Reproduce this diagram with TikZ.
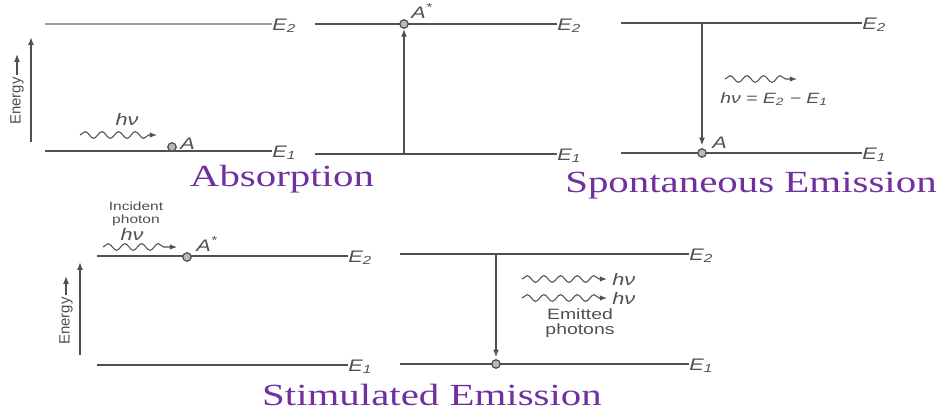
\documentclass[tikz,border=0pt]{standalone}
\usepackage{fontspec}
\setmainfont{Liberation Sans}
\newfontfamily\lblfont{Liberation Sans}[FakeStretch=1.3]
\newfontfamily\ttlfont{Liberation Serif}[FakeStretch=1.33]
\usetikzlibrary{decorations.pathmorphing,arrows.meta}
\definecolor{lvlgray}{RGB}{80,80,80}
\definecolor{atomgray}{RGB}{185,185,185}
\definecolor{titlepurple}{RGB}{112,48,160}
\tikzset{
  level/.style={draw=lvlgray, line width=1.1pt},
  elabel/.style={anchor=base west, inner sep=0pt, text=lvlgray,
    font=\lblfont\itshape\fontsize{9.5}{10}\selectfont},
  atom/.style={circle, draw=lvlgray, fill=atomgray, line width=0.7pt,
    minimum size=4.8pt, inner sep=0pt},
  trans/.style={lvlgray, line width=0.9pt, -{Latex[length=4.5pt,width=3.4pt]}},
  photon/.style={lvlgray, line width=0.6pt, decorate,
    decoration={snake, amplitude=1.9pt, segment length=9.5pt, post length=4pt},
    -{Latex[length=4pt,width=3pt]}},
  energy/.style={rotate=90, inner sep=0pt, text=lvlgray, font=\fontsize{8.5}{8.5}\selectfont},
  small/.style={inner sep=0pt, align=center, text=lvlgray,
    font=\lblfont\fontsize{6.8}{7.2}\selectfont},
  heading/.style={inner sep=0pt, text=titlepurple, font=\ttlfont\fontsize{17.5}{17.5}\selectfont},
}
\begin{document}
\begin{tikzpicture}[x=0.02cm, y=-0.02cm]
  \useasboundingbox (0,0) rectangle (938,413);
  % absorption: photon arrives
  \coordinate (a2) at (45,24);
  \coordinate (a1) at (45,151);
  \node[elabel] (a2l) at (272,30) {E\textsubscript{2}};
  \node[elabel] (a1l) at (272,157) {E\textsubscript{1}};
  \draw[level, draw=lvlgray!55] (a2) -- (a2 -| a2l.west);
  \draw[level] (a1) -- (a1 -| a1l.west);
  \coordinate (en1) at (31,142);
  \coordinate (en1t) at (31,37);
  \draw[trans] (en1) -- (en1t);
  \node[energy] (en1l) at (17,101) {Energy};
  \draw[trans, line width=0.7pt] (en1l.east) ++(0,-2) -- ++(0,-21);
  \node[atom] (atA) at (172,147) {};
  \node[elabel] (atAl) at (180,149) {A};
  \coordinate (ph1s) at (80,135);
  \coordinate (ph1e) at (157,135);
  \draw[photon] (ph1s) -- (ph1e);
  \node[elabel, anchor=center] (ph1l) at (127,119) {hν};
  % absorption: atom excited
  \coordinate (b2) at (315,24);
  \coordinate (b1) at (315,154);
  \node[elabel] (b2l) at (557,30) {E\textsubscript{2}};
  \node[elabel] (b1l) at (557,160) {E\textsubscript{1}};
  \draw[level] (b2) -- (b2 -| b2l.west);
  \draw[level] (b1) -- (b1 -| b1l.west);
  \node[atom] (atB) at (404,24) {};
  \node[elabel] (atBl) at (411,18) {A\textsuperscript{*}};
  \coordinate (b0) at (404,154);
  \draw[trans] (b0) -- (atB);
  \node[heading] (habs) at (282,179) {Absorption};
  % spontaneous emission
  \coordinate (c2) at (621,23);
  \coordinate (c1) at (621,153);
  \node[elabel] (c2l) at (862,29) {E\textsubscript{2}};
  \node[elabel] (c1l) at (862,159) {E\textsubscript{1}};
  \draw[level] (c2) -- (c2 -| c2l.west);
  \draw[level] (c1) -- (c1 -| c1l.west);
  \node[atom] (atC) at (702,153) {};
  \node[elabel] (atCl) at (712,148) {A};
  \coordinate (c0) at (702,23);
  \draw[trans, shorten >=1.5pt] (c0) -- (atC);
  \coordinate (ph2s) at (725,79);
  \coordinate (ph2e) at (797,79);
  \draw[photon] (ph2s) -- (ph2e);
  \node[elabel, anchor=west, font=\lblfont\itshape\fontsize{8.5}{9}\selectfont] (ph2l) at (720,99) {hν = E\textsubscript{2} − E\textsubscript{1}};
  \node[heading] (hspo) at (751,186) {Spontaneous Emission};
  % stimulated emission: before
  \coordinate (d2) at (97,256);
  \coordinate (d1) at (97,365);
  \node[elabel] (d2l) at (348,262) {E\textsubscript{2}};
  \node[elabel] (d1l) at (348,371) {E\textsubscript{1}};
  \draw[level] (d2) -- (d2 -| d2l.west);
  \draw[level] (d1) -- (d1 -| d1l.west);
  \coordinate (en2) at (80,355);
  \coordinate (en2t) at (80,262);
  \draw[trans] (en2) -- (en2t);
  \node[energy] (en2l) at (66,321) {Energy};
  \draw[trans, line width=0.7pt] (en2l.east) ++(0,-2) -- ++(0,-19);
  \node[atom] (atD) at (187,257) {};
  \node[elabel] (atDl) at (196,251) {A\textsuperscript{*}};
  \coordinate (ph3s) at (103,247);
  \coordinate (ph3e) at (177,247);
  \draw[photon] (ph3s) -- (ph3e);
  \node[small] (incl) at (136,214) {Incident\\photon};
  \node[elabel, anchor=center] (ph3l) at (132,234) {hν};
  % stimulated emission: after
  \coordinate (e2) at (400,254);
  \coordinate (e1) at (400,364);
  \node[elabel] (e2l) at (689,260) {E\textsubscript{2}};
  \node[elabel] (e1l) at (689,370) {E\textsubscript{1}};
  \draw[level] (e2) -- (e2 -| e2l.west);
  \draw[level] (e1) -- (e1 -| e1l.west);
  \node[atom] (atE) at (496,364) {};
  \coordinate (e0) at (496,254);
  \draw[trans, shorten >=1pt] (e0) -- (atE);
  \coordinate (ph4s) at (522,279);
  \coordinate (ph4e) at (607,279);
  \coordinate (ph5s) at (522,298);
  \coordinate (ph5e) at (607,298);
  \draw[photon] (ph4s) -- (ph4e);
  \draw[photon] (ph5s) -- (ph5e);
  \node[elabel, anchor=west] (ph4l) at (612,279) {hν};
  \node[elabel, anchor=west] (ph5l) at (612,298) {hν};
  \node[small, font=\lblfont\fontsize{8.5}{8.5}\selectfont] (emil) at (580,323) {Emitted\\photons};
  \node[heading] (hsti) at (432,395) {Stimulated Emission};
\end{tikzpicture}
\end{document}
